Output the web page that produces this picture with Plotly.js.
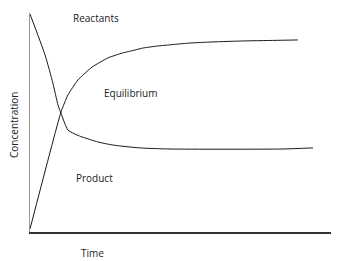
<!DOCTYPE html>
<html>
<head>
<meta charset="utf-8">
<script src="https://cdn.plot.ly/plotly-3.0.1.min.js"></script>
<style>html,body{margin:0;padding:0;background:#fff;}#chart{width:339px;height:261px;}</style>
</head>
<body>
<div id="chart"></div>
<script>
const reactantTime = [0, 0.50, 0.76, 0.93, 1.03, 1.26, 1.56, 1.73, 2.26, 2.76, 3.65, 4.65, 8.37, 9.40];
const reactantConc = [0.995, 0.808, 0.680, 0.580, 0.543, 0.466, 0.443, 0.434, 0.411, 0.397, 0.384, 0.379, 0.379, 0.384];
const productTime = [0, 1.03, 1.26, 1.59, 2.06, 2.59, 3.06, 3.49, 3.75, 4.22, 4.75, 5.22, 5.91, 6.98, 8.14, 8.90];
const productConc = [0.014, 0.548, 0.626, 0.694, 0.753, 0.795, 0.817, 0.831, 0.840, 0.849, 0.856, 0.862, 0.867, 0.872, 0.875, 0.877];
const labels = {reactants: "Reactants", equilibrium: "Equilibrium", product: "Product", xTitle: "Time", yTitle: "Concentration"};

const font = {family: "Open Sans, Liberation Sans, sans-serif", size: 10, color: "#222"};

const traces = [
  {x: reactantTime, y: reactantConc, mode: "lines", line: {color: "#1a1a1a", width: 1, shape: "spline", smoothing: 0.6}, hoverinfo: "skip"},
  {x: productTime, y: productConc, mode: "lines", line: {color: "#1a1a1a", width: 1, shape: "spline", smoothing: 0.4}, hoverinfo: "skip"}
];

function ann(text, x, y, extra) {
  return Object.assign({text: text, xref: "paper", yref: "paper", x: x, y: y, xanchor: "center", yanchor: "middle", showarrow: false, font: font}, extra || {});
}

const layout = {
  width: 339, height: 261,
  margin: {l: 30, r: 8, t: 13, b: 29},
  paper_bgcolor: "#fff", plot_bgcolor: "#fff",
  showlegend: false,
  font: font,
  xaxis: {range: [0, 10], showline: true, linecolor: "#333", linewidth: 1.5, showgrid: false, zeroline: false, showticklabels: false, ticks: ""},
  yaxis: {range: [0, 1], showline: true, linecolor: "#999", linewidth: 1.5, showgrid: false, zeroline: false, showticklabels: false, ticks: ""},
  annotations: [
    ann(labels.reactants, 0.218, 0.977),
    ann(labels.equilibrium, 0.336, 0.635),
    ann(labels.product, 0.214, 0.247),
    ann(labels.xTitle, 0.206, -0.096),
    ann(labels.yTitle, -0.053, 0.489, {textangle: -90})
  ]
};

Plotly.newPlot("chart", traces, layout, {staticPlot: true, displayModeBar: false});
</script>
</body>
</html>
